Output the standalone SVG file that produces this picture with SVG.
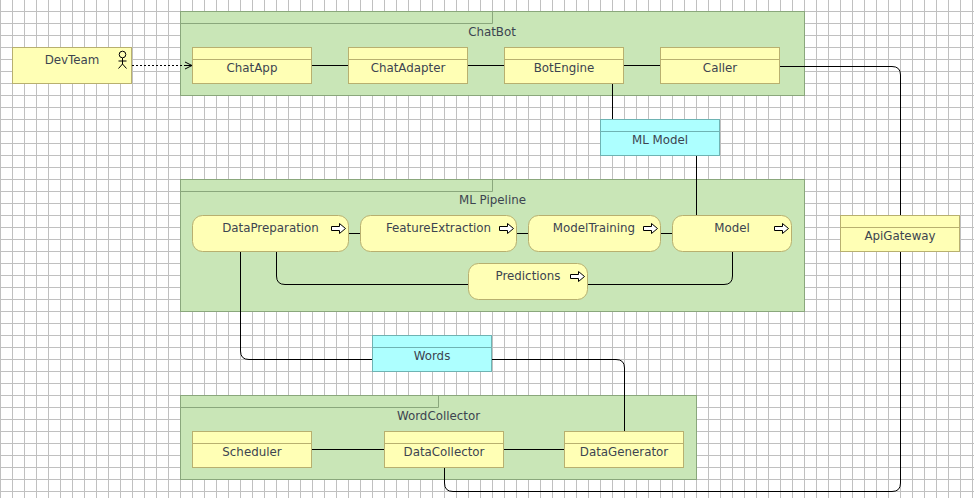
<svg xmlns="http://www.w3.org/2000/svg" width="974" height="498" viewBox="0 0 974 498">
<defs>
<pattern id="grid" width="12" height="12" patternUnits="userSpaceOnUse" x="0" y="0"><path d="M0.5 0V12M0 11.5H12" fill="none" stroke="#c0c0c0" stroke-width="1"/></pattern>
<marker id="open" markerUnits="userSpaceOnUse" markerWidth="10" markerHeight="10" refX="8" refY="5" orient="auto"><path d="M1 1.5L8 5L1 8.5M8 5H1" fill="none" stroke="#000" stroke-width="1"/></marker>
<symbol id="flow" overflow="visible"><path d="M0.5 3.5H8.5V0.5L14.5 5.5L8.5 10.5V7.5H0.5Z" fill="#fff" stroke="#000" stroke-width="1"/></symbol>
</defs>
<style>
.pkg{fill:#c9e6b7;stroke:#8aa77c;stroke-width:1}
.tab{fill:none;stroke:#8aa77c;stroke-width:1}
.y{fill:#ffffb5;stroke:#b8b06f;stroke-width:1}
.c{fill:#adffff;stroke:#6eb3b3;stroke-width:1}
.hl{fill:none;stroke:#b8b06f;stroke-width:1}
.hc{fill:none;stroke:#6eb3b3;stroke-width:1}
text{font-family:"DejaVu Sans",sans-serif;font-size:11.85px;fill:#3c4450;text-anchor:middle}
.w{fill:none;stroke:#000;stroke-width:1}
</style>
<rect width="974" height="498" fill="#fff"/>
<rect width="974" height="498" fill="url(#grid)"/>
<g id="pkg-chatbot"><rect class="pkg" x="180.5" y="11.5" width="624" height="84"/><path class="tab" d="M180.5 23.5H492.5V11.5"/><text x="492" y="36">ChatBot</text></g>
<g id="pkg-mlpipeline"><rect class="pkg" x="180.5" y="179.5" width="624" height="132"/><path class="tab" d="M180.5 191.5H492.5V179.5"/><text x="492.5" y="204">ML Pipeline</text></g>
<g id="pkg-wordcollector"><rect class="pkg" x="180.5" y="395.5" width="516" height="84"/><path class="tab" d="M180.5 407.5H438.5V395.5"/><text x="438.5" y="420">WordCollector</text></g>
<g id="connectors">
<path class="w" d="M311 65.5H349M467 65.5H505M623 65.5H661"/>
<path class="w" d="M779 66.5H892Q900.5 66.5 900.5 75V216M900.5 251V483Q900.5 491.5 892 491.5H453Q444.5 491.5 444.5 483V467"/>
<path class="w" d="M612.5 83V120M696.5 155V216"/>
<path class="w" d="M348 233.5H361M516 233.5H529M660 233.5H673"/>
<path class="w" d="M276.5 251V276Q276.5 284.5 285 284.5H469M587 284.5H724Q732.5 284.5 732.5 276V251"/>
<path class="w" d="M240.5 251V351Q240.5 359.5 249 359.5H373M491 359.5H616Q624.5 359.5 624.5 368V432"/>
<path class="w" d="M311 449.5H385M503 449.5H565"/>
<path d="M132 65.5H192" fill="none" stroke="#000" stroke-width="1" stroke-dasharray="2 2" marker-end="url(#open)"/>
</g>
<g id="DevTeam"><rect class="y" x="12.5" y="47.5" width="119" height="36"/><text x="72" y="64">DevTeam</text><g fill="none" stroke="#000" stroke-width="1"><circle cx="122.5" cy="54.5" r="3.3"/><path d="M122.5 58V64M118.5 61H126.5M118.5 68.5L122.5 64L126.5 68.5"/></g></g>
<g id="ChatApp"><rect class="y" x="192.5" y="47.5" width="119" height="36"/><path class="hl" d="M192.5 59.5H311.5"/><text x="252" y="72">ChatApp</text></g>
<g id="ChatAdapter"><rect class="y" x="348.5" y="47.5" width="119" height="36"/><path class="hl" d="M348.5 59.5H467.5"/><text x="408" y="72">ChatAdapter</text></g>
<g id="BotEngine"><rect class="y" x="504.5" y="47.5" width="119" height="36"/><path class="hl" d="M504.5 59.5H623.5"/><text x="564" y="72">BotEngine</text></g>
<g id="Caller"><rect class="y" x="660.5" y="47.5" width="119" height="36"/><path class="hl" d="M660.5 59.5H779.5"/><text x="720" y="72">Caller</text></g>
<g id="MLModel"><rect class="c" x="600.5" y="119.5" width="119" height="36"/><path class="hc" d="M600.5 131.5H719.5"/><text x="660" y="144">ML Model</text></g>
<g id="ApiGateway"><rect class="y" x="840.5" y="215.5" width="119" height="36"/><path class="hl" d="M840.5 227.5H959.5"/><text x="900" y="240">ApiGateway</text></g>
<g id="DataPreparation"><rect class="y" x="192.5" y="215.5" width="156" height="36" rx="10"/><text x="270.5" y="232">DataPreparation</text><use href="#flow" x="331" y="223"/></g>
<g id="FeatureExtraction"><rect class="y" x="360.5" y="215.5" width="156" height="36" rx="10"/><text x="438.5" y="232">FeatureExtraction</text><use href="#flow" x="499" y="223"/></g>
<g id="ModelTraining"><rect class="y" x="528.5" y="215.5" width="132" height="36" rx="10"/><text x="594" y="232">ModelTraining</text><use href="#flow" x="643" y="223"/></g>
<g id="Model"><rect class="y" x="672.5" y="215.5" width="119" height="36" rx="10"/><text x="732" y="232">Model</text><use href="#flow" x="774" y="223"/></g>
<g id="Predictions"><rect class="y" x="468.5" y="263.5" width="119" height="36" rx="10"/><text x="528" y="280">Predictions</text><use href="#flow" x="570" y="271"/></g>
<g id="WordsNode"><rect class="c" x="372.5" y="335.5" width="119" height="36"/><path class="hc" d="M372.5 347.5H491.5"/><text x="432" y="360">Words</text></g>
<g id="Scheduler"><rect class="y" x="192.5" y="431.5" width="119" height="36"/><path class="hl" d="M192.5 443.5H311.5"/><text x="252" y="456">Scheduler</text></g>
<g id="DataCollector"><rect class="y" x="384.5" y="431.5" width="119" height="36"/><path class="hl" d="M384.5 443.5H503.5"/><text x="444" y="456">DataCollector</text></g>
<g id="DataGenerator"><rect class="y" x="564.5" y="431.5" width="119" height="36"/><path class="hl" d="M564.5 443.5H683.5"/><text x="624" y="456">DataGenerator</text></g>
</svg>
